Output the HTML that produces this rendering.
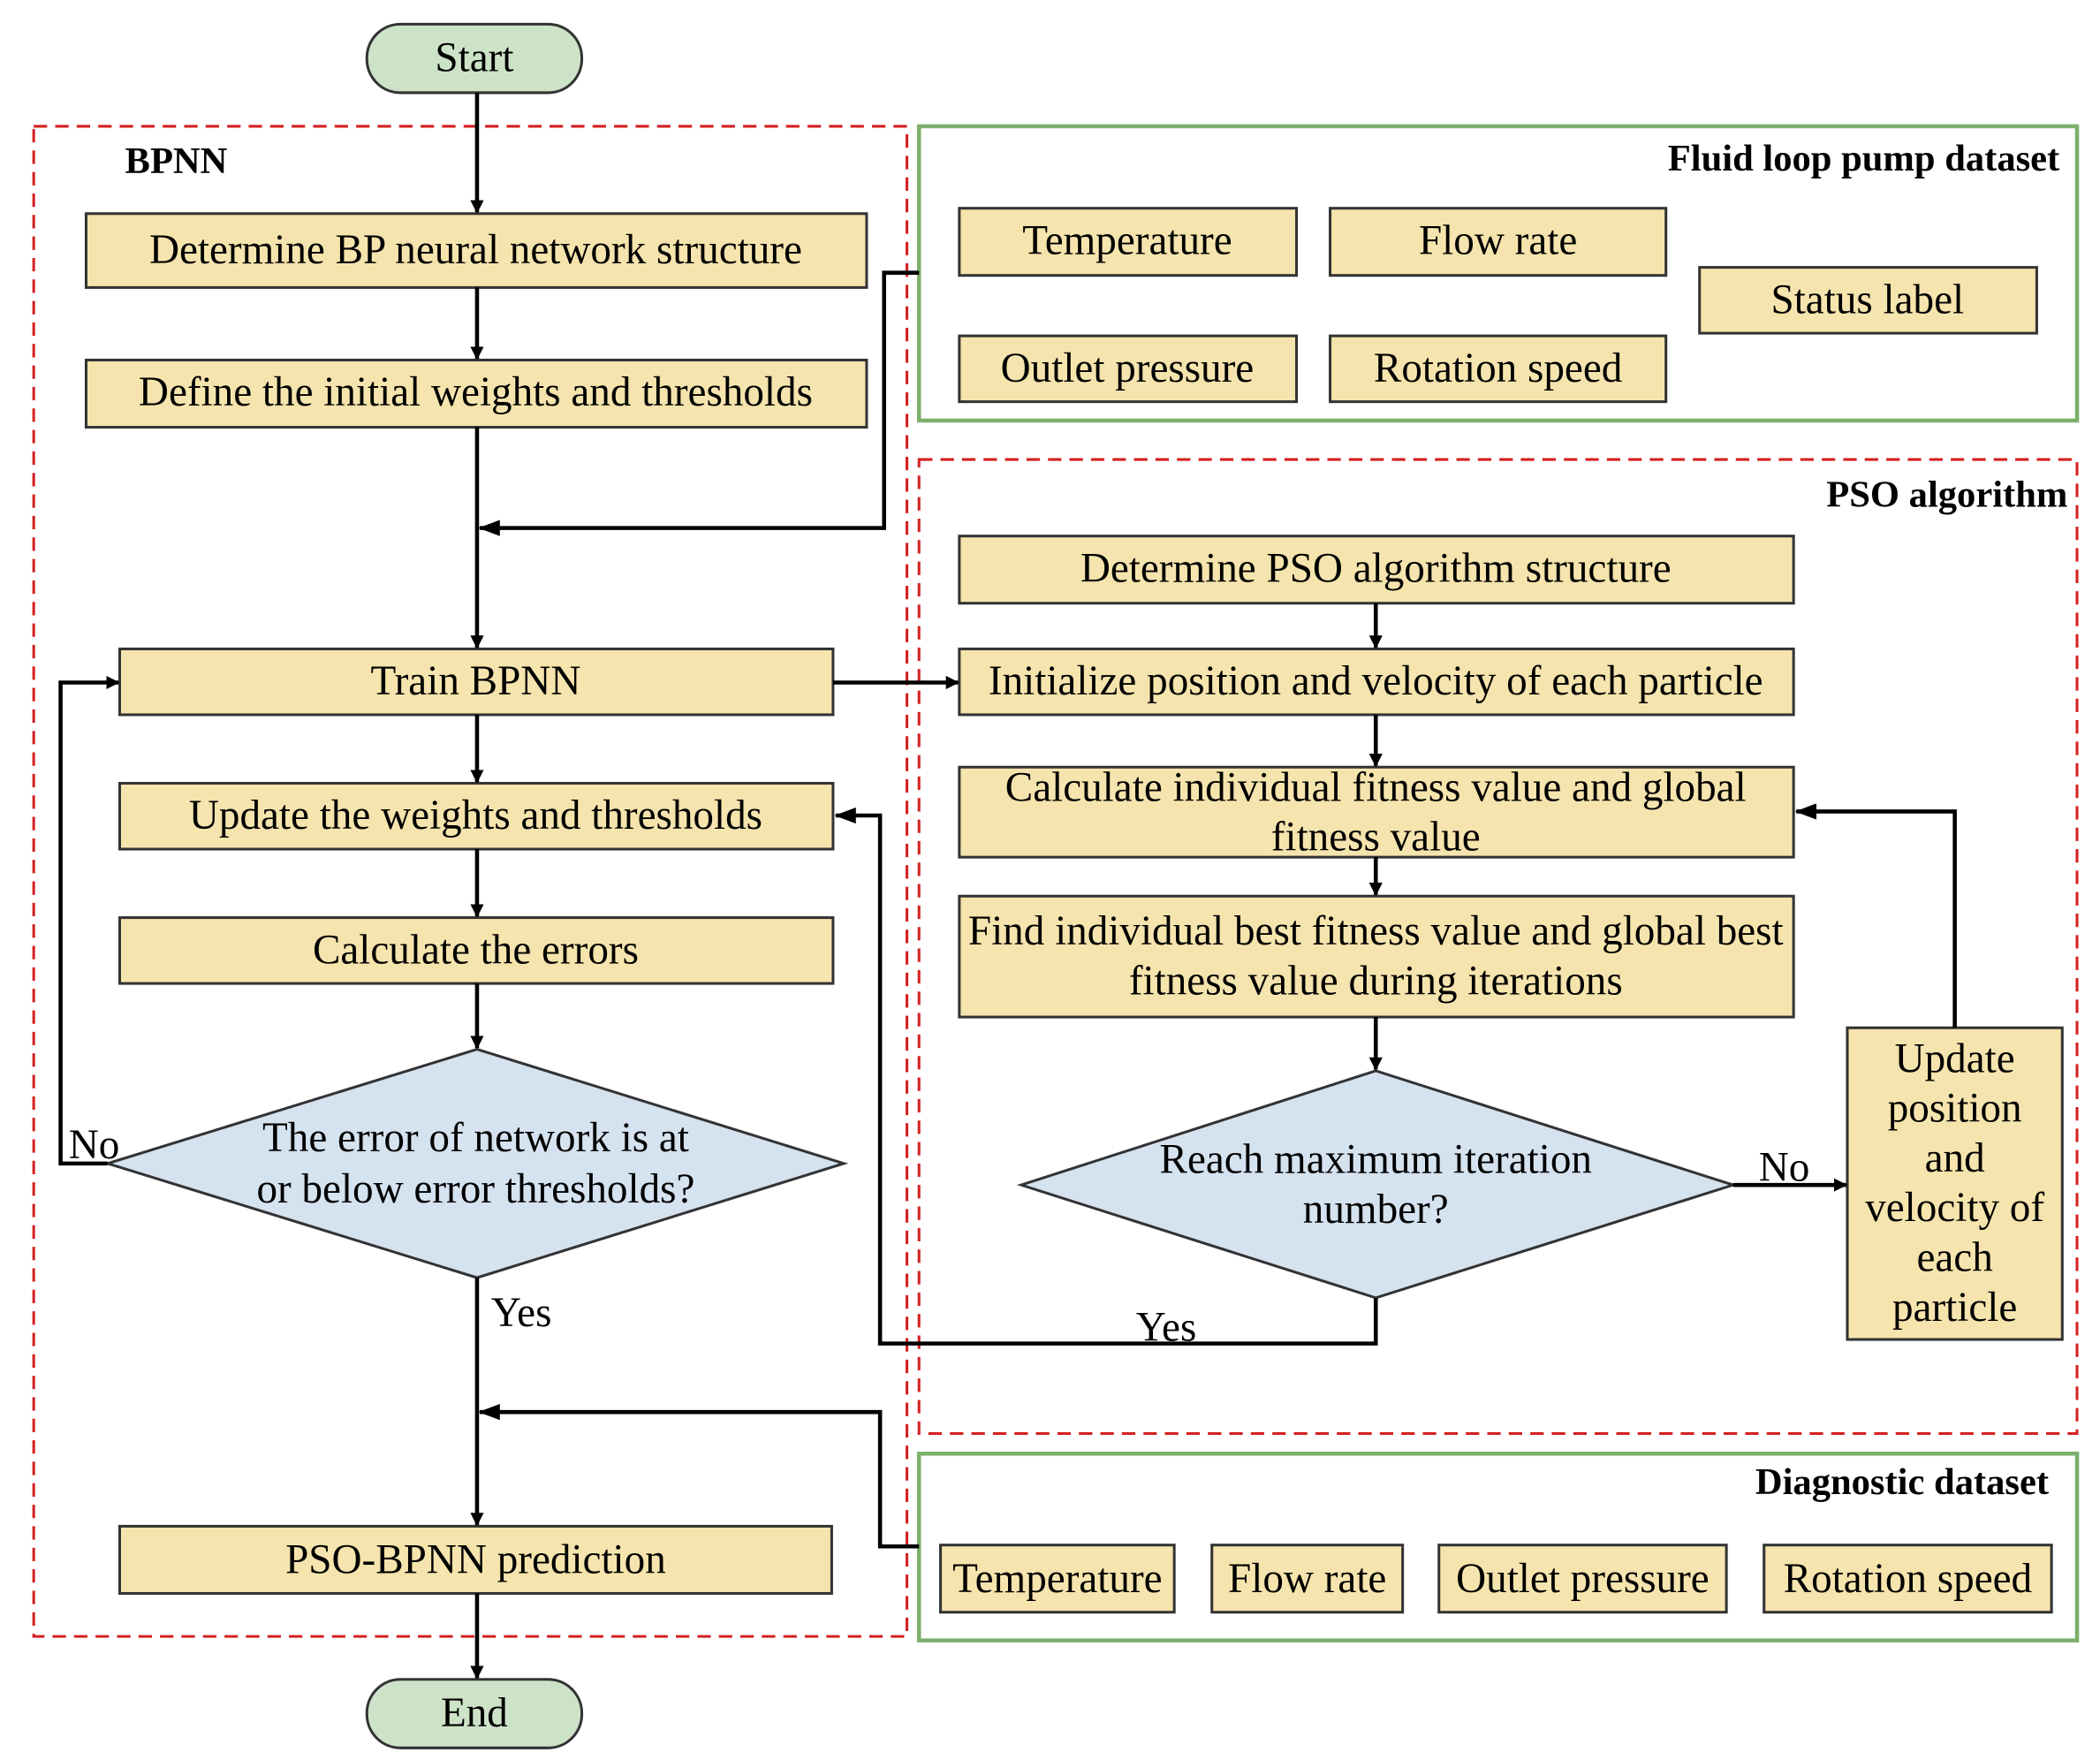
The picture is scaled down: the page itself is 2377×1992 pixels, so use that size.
<!DOCTYPE html>
<html><head><meta charset="utf-8"><style>
html,body{margin:0;padding:0;background:#fff}
svg{display:block}
text{font-family:"Liberation Serif",serif;font-size:31px;fill:#000}
.t{font-weight:bold;font-size:28px}
</style></head><body>
<svg width="2377" height="1992" viewBox="0 0 1563 1310" xmlns="http://www.w3.org/2000/svg">
<defs>
<marker id="a" markerWidth="10" markerHeight="10" refX="9" refY="5" orient="auto" markerUnits="userSpaceOnUse" viewBox="0 0 10 10"><path d="M0,0 L10,5 L0,10 z" fill="#000"/></marker>
<marker id="b" markerWidth="16" markerHeight="12" refX="15" refY="6" orient="auto" markerUnits="userSpaceOnUse" viewBox="0 0 16 12"><path d="M0,0 L16,6 L0,12 z" fill="#000"/></marker>
</defs>
<rect x="25" y="94" width="650" height="1124" fill="none" stroke="#d42020" stroke-width="2" stroke-dasharray="10,6"/>
<rect x="684" y="94" width="862" height="219" fill="none" stroke="#7cb06c" stroke-width="3"/>
<rect x="684" y="342" width="862" height="725" fill="none" stroke="#d42020" stroke-width="2" stroke-dasharray="10,6"/>
<rect x="684" y="1082" width="862" height="139" fill="none" stroke="#7cb06c" stroke-width="3"/>
<text class="t" x="93" y="129">BPNN</text>
<text class="t" x="1533" y="127" text-anchor="end">Fluid loop pump dataset</text>
<text class="t" x="1539" y="377" text-anchor="end">PSO algorithm</text>
<text class="t" x="1525" y="1112" text-anchor="end">Diagnostic dataset</text>

<g fill="#f5e4ad" stroke="#333" stroke-width="2">
<rect x="64" y="159" width="581" height="55"/>
<rect x="64" y="268" width="581" height="50"/>
<rect x="89" y="483" width="531" height="49"/>
<rect x="89" y="583" width="531" height="49"/>
<rect x="89" y="683" width="531" height="49"/>
<rect x="89" y="1136" width="530" height="50"/>
<rect x="714" y="155" width="251" height="50"/>
<rect x="990" y="155" width="250" height="50"/>
<rect x="714" y="250" width="251" height="49"/>
<rect x="990" y="250" width="250" height="49"/>
<rect x="1265" y="199" width="251" height="49"/>
<rect x="714" y="399" width="621" height="50"/>
<rect x="714" y="483" width="621" height="49"/>
<rect x="714" y="571" width="621" height="67"/>
<rect x="714" y="667" width="621" height="90"/>
<rect x="1375" y="765" width="160" height="232"/>
<rect x="700" y="1150" width="174" height="50"/>
<rect x="902" y="1150" width="142" height="50"/>
<rect x="1071" y="1150" width="214" height="50"/>
<rect x="1313" y="1150" width="214" height="50"/>
</g>
<g fill="#d5e2ef" stroke="#333" stroke-width="2">
<polygon points="80,866 355,781 628,866 355,951"/>
<polygon points="760,882 1024,797 1290,882 1024,966"/>
</g>
<g fill="#cde3c8" stroke="#333" stroke-width="2">
<rect x="273" y="18" width="160" height="51" rx="25"/>
<rect x="273" y="1250" width="160" height="51" rx="25"/>
</g>

<g fill="none" stroke="#000" stroke-width="3">
<line x1="355" y1="69" x2="355" y2="158" marker-end="url(#a)"/>
<line x1="355" y1="214" x2="355" y2="267" marker-end="url(#a)"/>
<line x1="355" y1="318" x2="355" y2="482" marker-end="url(#a)"/>
<polyline points="684,203 658,203 658,393 357,393" marker-end="url(#b)"/>
<line x1="620" y1="508" x2="713" y2="508" marker-end="url(#a)"/>
<line x1="355" y1="532" x2="355" y2="582" marker-end="url(#a)"/>
<line x1="355" y1="632" x2="355" y2="682" marker-end="url(#a)"/>
<line x1="355" y1="732" x2="355" y2="780" marker-end="url(#a)"/>
<polyline points="80,866 45,866 45,508 88,508" marker-end="url(#a)"/>
<line x1="355" y1="951" x2="355" y2="1135" marker-end="url(#a)"/>
<polyline points="684,1151 655,1151 655,1051 357,1051" marker-end="url(#b)"/>
<line x1="355" y1="1186" x2="355" y2="1249" marker-end="url(#a)"/>
<line x1="1024" y1="449" x2="1024" y2="482" marker-end="url(#a)"/>
<line x1="1024" y1="532" x2="1024" y2="570" marker-end="url(#a)"/>
<line x1="1024" y1="638" x2="1024" y2="666" marker-end="url(#a)"/>
<line x1="1024" y1="757" x2="1024" y2="796" marker-end="url(#a)"/>
<line x1="1290" y1="882" x2="1374" y2="882" marker-end="url(#a)"/>
<polyline points="1455,765 1455,604 1337,604" marker-end="url(#b)"/>
<polyline points="1024,966 1024,1000 655,1000 655,607 622,607" marker-end="url(#b)"/>
</g>

<g text-anchor="middle">
<text x="353" y="53">Start</text>
<text x="353" y="1285">End</text>
<text x="354" y="196">Determine BP neural network structure</text>
<text x="354" y="302">Define the initial weights and thresholds</text>
<text x="354" y="517">Train BPNN</text>
<text x="354" y="617">Update the weights and thresholds</text>
<text x="354" y="717">Calculate the errors</text>
<text x="354" y="857">The error of  network is at</text>
<text x="354" y="895">or below error thresholds?</text>
<text x="354" y="1171">PSO-BPNN prediction</text>
<text x="839" y="189">Temperature</text>
<text x="1115" y="189">Flow rate</text>
<text x="839" y="284">Outlet pressure</text>
<text x="1115" y="284">Rotation speed</text>
<text x="1390" y="233">Status label</text>
<text x="1024" y="433">Determine PSO algorithm structure</text>
<text x="1024" y="517">Initialize position and velocity of each particle</text>
<text x="1024" y="596">Calculate individual fitness value and global</text>
<text x="1024" y="633">fitness value</text>
<text x="1024" y="703">Find individual best fitness value and global best</text>
<text x="1024" y="740">fitness value during iterations</text>
<text x="1024" y="873">Reach maximum iteration</text>
<text x="1024" y="910">number?</text>
<text x="1455" y="798">Update</text>
<text x="1455" y="835">position</text>
<text x="1455" y="872">and</text>
<text x="1455" y="909">velocity of</text>
<text x="1455" y="946">each</text>
<text x="1455" y="983">particle</text>
<text x="787" y="1185">Temperature</text>
<text x="973" y="1185">Flow rate</text>
<text x="1178" y="1185">Outlet pressure</text>
<text x="1420" y="1185">Rotation speed</text>
<text x="70" y="862">No</text>
<text x="388" y="987">Yes</text>
<text x="1328" y="879">No</text>
<text x="868" y="998">Yes</text>
</g>
</svg>
</body></html>
